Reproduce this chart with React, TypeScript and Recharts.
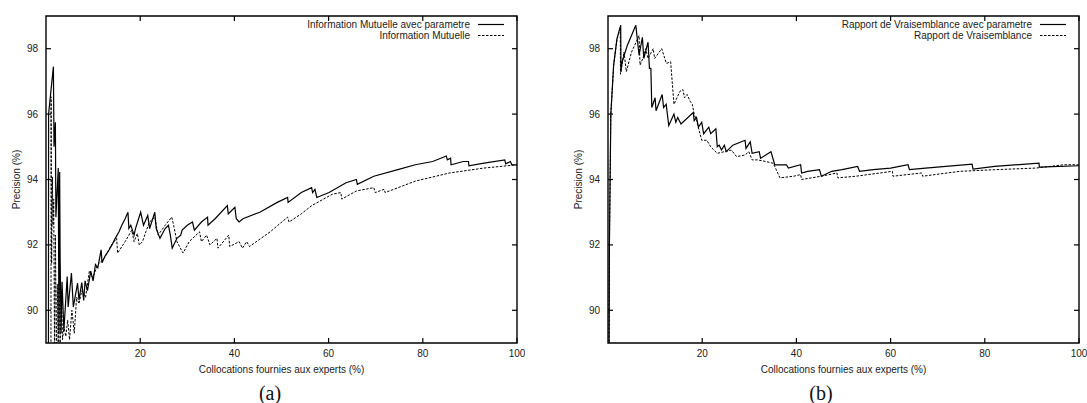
import { Line, LineChart, ReferenceArea, XAxis, YAxis } from "recharts";

const X_TICKS = [20, 40, 60, 80, 100];
const Y_TICKS = [90, 92, 94, 96, 98];
const X_TITLE = "Collocations fournies aux experts (%)";
const Y_TITLE = "Precision (%)";

// (a) Information Mutuelle avec parametre
const miParamX = [0.5, 0.55, 1.57, 1.7, 1.99, 2.1, 2.6, 2.75, 2.9, 3.0, 3.2, 3.4, 3.8, 4.5, 4.7, 5.4, 5.8, 6.7, 7.0, 7.6, 8.0, 8.3, 8.8, 9.5, 10.0, 10.5, 11.0, 11.7, 11.9, 12.5, 13.2, 14.0, 14.7, 15.5, 16.1, 16.8, 17.4, 17.6, 18.0, 18.7, 19.0, 20.1, 20.7, 21.6, 22.0, 23.1, 23.4, 24.2, 25.3, 26.0, 26.4, 26.8, 27.8, 28.6, 28.9, 30.0, 31.1, 31.5, 33.0, 34.3, 34.4, 35.9, 38.5, 38.7, 40.1, 40.4, 41.0, 41.8, 45.4, 49.1, 51.3, 51.4, 54.2, 56.4, 56.6, 57.1, 57.5, 60.1, 63.7, 65.9, 66.1, 69.6, 74.7, 78.4, 82.1, 85.0, 85.2, 85.9, 86.0, 88.6, 89.7, 89.8, 93.0, 97.4, 97.6, 98.6, 98.9, 100];
const miParamY = [85, 96.0, 97.45, 95.0, 95.75, 92.85, 94.35, 89.3, 94.23, 91.64, 89.3, 90.87, 89.4, 91.03, 90.1, 91.14, 90.1, 90.83, 90.32, 90.85, 90.3, 90.9, 90.6, 91.2, 90.9, 91.4, 91.3, 91.85, 91.45, 91.65, 91.8, 92.0, 92.2, 92.4, 92.6, 92.8, 93.0, 92.5, 92.6, 92.3, 92.5, 93.0, 92.6, 92.9, 92.5, 93.0, 92.5, 92.2, 92.5, 92.6, 92.3, 91.9, 92.2, 92.3, 92.45, 92.6, 92.7, 92.45, 92.7, 92.85, 92.6, 92.8, 93.2, 92.95, 93.15, 92.8, 92.7, 92.8, 93.0, 93.3, 93.45, 93.3, 93.6, 93.75, 93.6, 93.7, 93.45, 93.6, 93.9, 94.0, 93.85, 94.1, 94.3, 94.45, 94.55, 94.72, 94.6, 94.65, 94.45, 94.55, 94.55, 94.42, 94.5, 94.6, 94.48, 94.55, 94.45, 94.45];

// (a) Information Mutuelle
const miX = [1.05, 1.08, 1.2, 1.36, 1.5, 1.64, 1.8, 2.0, 2.2, 2.4, 2.6, 2.8, 3.0, 3.3, 3.5, 3.8, 4.2, 4.6, 5.0, 5.5, 6.0, 6.5, 7.0, 7.6, 8.4, 9.2, 9.9, 11.0, 12.4, 13.9, 15.0, 15.2, 16.8, 18.2, 18.7, 19.4, 19.8, 20.5, 21.2, 22.0, 23.1, 23.8, 25.3, 26.7, 27.1, 27.8, 29.1, 30.4, 32.6, 33.0, 34.1, 34.8, 36.3, 36.5, 38.8, 39.0, 41.0, 41.7, 42.6, 43.2, 47.6, 51.3, 51.6, 54.2, 56.4, 60.8, 62.6, 62.8, 65.9, 69.6, 69.9, 71.8, 72.0, 78.4, 85.7, 93.0, 100];
const miY = [85, 96.53, 91.43, 94.08, 92.6, 93.4, 89.0, 92.3, 88.5, 90.8, 88.7, 90.9, 89.0, 90.6, 89.1, 89.5, 89.2, 89.7, 89.1, 90.0, 89.3, 90.4, 90.2, 90.6, 90.4, 91.2, 91.0, 91.4, 91.6, 92.0, 92.2, 91.75, 92.1, 92.45, 92.1, 92.35, 92.0, 92.1, 92.4, 92.7, 92.85, 92.3, 92.6, 92.85, 92.6, 92.1, 91.75, 92.1, 92.4, 92.1, 92.3, 92.0, 92.2, 91.9, 92.3, 91.95, 92.1, 91.9, 92.1, 91.95, 92.4, 92.85, 92.7, 92.95, 93.2, 93.55, 93.6, 93.4, 93.65, 93.75, 93.6, 93.7, 93.6, 93.95, 94.2, 94.35, 94.45];

// (b) Rapport de Vraisemblance avec parametre
const rvParamX = [0.15, 0.3, 0.6, 1.2, 1.9, 2.7, 2.75, 3.0, 4.1, 5.9, 6.6, 7.3, 7.6, 8.5, 8.8, 9.1, 9.3, 10.0, 10.2, 11.5, 11.8, 12.35, 12.9, 14.0, 14.4, 14.8, 15.5, 18.1, 18.3, 18.8, 19.2, 19.9, 20.3, 21.4, 21.8, 22.9, 23.2, 23.6, 24.1, 24.7, 25.1, 26.5, 29.1, 29.3, 30.2, 30.6, 32.1, 32.4, 34.6, 35.4, 36.5, 37.9, 38.3, 40.9, 41.1, 42.4, 44.9, 45.3, 47.5, 49.7, 53.0, 53.4, 56.3, 60.0, 63.7, 64.0, 67.4, 77.3, 77.5, 82.1, 91.5, 91.6, 100];
const rvParamY = [85, 92.0, 96.0, 97.5, 98.3, 98.72, 97.3, 97.6, 98.1, 98.72, 97.8, 98.35, 97.7, 98.2, 97.4, 97.4, 96.2, 96.5, 96.1, 96.6, 96.2, 96.3, 95.65, 96.0, 95.75, 95.9, 95.7, 96.05, 95.8, 95.9, 95.6, 95.75, 95.4, 95.6, 95.4, 95.55, 95.0, 95.05, 94.9, 95.05, 94.85, 95.05, 95.2, 94.95, 95.15, 94.8, 94.85, 94.65, 94.85, 94.45, 94.45, 94.45, 94.35, 94.45, 94.2, 94.25, 94.3, 94.1, 94.25, 94.3, 94.4, 94.25, 94.3, 94.35, 94.45, 94.3, 94.35, 94.47, 94.32, 94.4, 94.5, 94.38, 94.42];

// (b) Rapport de Vraisemblance
const rvX = [0.15, 0.3, 0.6, 1.2, 1.9, 2.6, 2.65, 3.4, 3.9, 5.0, 6.6, 6.8, 7.4, 8.0, 8.5, 9.6, 9.9, 11.4, 12.4, 13.3, 14.0, 15.3, 15.9, 16.25, 16.8, 17.4, 17.9, 18.3, 18.8, 19.9, 21.0, 21.8, 23.2, 24.7, 26.2, 27.3, 29.1, 29.9, 30.6, 31.7, 33.5, 35.0, 35.4, 36.5, 39.4, 40.9, 41.1, 45.3, 48.6, 48.8, 52.6, 60.4, 60.5, 66.6, 66.8, 74.7, 82.1, 90.9, 96.8, 100];
const rvY = [85, 92.0, 96.0, 97.5, 98.3, 98.65, 97.22, 97.9, 97.3, 97.9, 98.4, 97.5, 97.7, 98.0, 97.7, 98.0, 97.7, 98.0, 97.55, 97.6, 96.3, 96.7, 96.75, 96.5, 96.6, 96.4, 96.3, 96.0, 95.8, 95.2, 95.2, 95.0, 94.8, 94.85, 94.9, 94.7, 94.75, 94.85, 94.6, 94.6, 94.55, 94.5, 94.4, 94.05, 94.1, 94.15, 94.0, 94.1, 94.2, 94.05, 94.1, 94.25, 94.1, 94.2, 94.1, 94.25, 94.3, 94.35, 94.45, 94.45];

const toRows = (xs: number[], ys: number[]) => xs.map((x, i) => ({ x, y: ys[i] }));

const FONT = "'Liberation Sans', Arial, Helvetica, sans-serif";
const textStyle = { fill: "#222", fontSize: 10, fontFamily: FONT };
const INK = "#000";

// plot box inside each panel (margin + axis sizes below)
const PLOT_TOP = 16;
const PLOT_BOTTOM = 343;
const PLOT_LEFT = 46;
const PLOT_RIGHT = 517;
const TICK_LEN = 5;

// gnuplot style ticks: inward, mirrored on the opposite border
function XTick(props: any) {
  const { y, payload } = props;
  const x = payload.coordinate;
  return (
    <g>
      <line x1={x} x2={x} y1={PLOT_BOTTOM} y2={PLOT_BOTTOM - TICK_LEN} stroke={INK} strokeWidth={1.2} />
      <line x1={x} x2={x} y1={PLOT_TOP} y2={PLOT_TOP + TICK_LEN} stroke={INK} strokeWidth={1.2} />
      <text x={x} y={y} dy="0.71em" textAnchor="middle" {...textStyle}>{payload.value}</text>
    </g>
  );
}

function YTick(props: any) {
  const { x, payload } = props;
  const y = payload.coordinate;
  return (
    <g>
      <line x1={PLOT_LEFT} x2={PLOT_LEFT + TICK_LEN} y1={y} y2={y} stroke={INK} strokeWidth={1.2} />
      <line x1={PLOT_RIGHT - TICK_LEN} x2={PLOT_RIGHT} y1={y} y2={y} stroke={INK} strokeWidth={1.2} />
      <text x={x} y={y} dy="0.355em" textAnchor="end" {...textStyle}>{payload.value}</text>
    </g>
  );
}

type PanelProps = {
  left: number;
  solid: { x: number; y: number }[];
  dashed: { x: number; y: number }[];
  names: [string, string];
};

function Panel({ left, solid, dashed, names }: PanelProps) {
  return (
    <div style={{ position: "absolute", left, top: 0, width: 525, height: 403 }}>
      <LineChart width={525} height={403} margin={{ top: PLOT_TOP, right: 525 - PLOT_RIGHT, bottom: 20, left: 0 }}>
        <XAxis
          type="number"
          dataKey="x"
          domain={[0, 100]}
          ticks={X_TICKS}
          allowDataOverflow
          height={40}
          axisLine={false}
          tickLine={false}
          tickSize={0}
          tickMargin={7}
          tick={<XTick />}
          label={{ value: X_TITLE, position: "center", dy: 6, style: textStyle }}
        />
        <YAxis
          type="number"
          domain={[89, 99]}
          ticks={Y_TICKS}
          allowDataOverflow
          width={PLOT_LEFT}
          axisLine={false}
          tickLine={false}
          tickSize={0}
          tickMargin={8}
          tick={<YTick />}
          label={{ value: Y_TITLE, angle: -90, position: "center", dx: -7, style: textStyle }}
        />
        <ReferenceArea x1={0} x2={100} y1={89} y2={99} fill="none" stroke={INK} strokeWidth={1.4} />
        <Line
          data={dashed}
          dataKey="y"
          type="linear"
          stroke="#000"
          strokeWidth={1}
          strokeDasharray="2.5 1.5"
          dot={false}
          isAnimationActive={false}
        />
        <Line
          data={solid}
          dataKey="y"
          type="linear"
          stroke="#000"
          strokeWidth={1.2}
          dot={false}
          isAnimationActive={false}
        />
      </LineChart>
      <div style={{ position: "absolute", top: 19, right: 21, fontFamily: FONT, fontSize: 10, color: "#222", lineHeight: "11px" }}>
        {names.map((n, i) => (
          <div key={n} style={{ display: "flex", justifyContent: "flex-end", alignItems: "center" }}>
            <span>{n}</span>
            <svg width={34} height={11}>
              <line x1={8} x2={34} y1={5.5} y2={5.5} stroke="#000" strokeWidth={i === 0 ? 1.2 : 1} strokeDasharray={i === 0 ? undefined : "2.5 1.5"} />
            </svg>
          </div>
        ))}
      </div>
    </div>
  );
}

export default function App() {
  const caption = { position: "absolute" as const, top: 382, width: 60, textAlign: "center" as const, fontFamily: "'Liberation Serif', 'Times New Roman', serif", fontSize: 20, lineHeight: "22px", color: "#111" };
  return (
    <div style={{ position: "absolute", left: 0, top: 0, width: 1087, height: 403, background: "#fff", overflow: "hidden" }}>
      <Panel left={0} solid={toRows(miParamX, miParamY)} dashed={toRows(miX, miY)} names={["Information Mutuelle avec parametre", "Information Mutuelle"]} />
      <Panel left={562} solid={toRows(rvParamX, rvParamY)} dashed={toRows(rvX, rvY)} names={["Rapport de Vraisemblance avec parametre", "Rapport de Vraisemblance"]} />
      <div style={{ ...caption, left: 240 }}>(a)</div>
      <div style={{ ...caption, left: 791 }}>(b)</div>
    </div>
  );
}
